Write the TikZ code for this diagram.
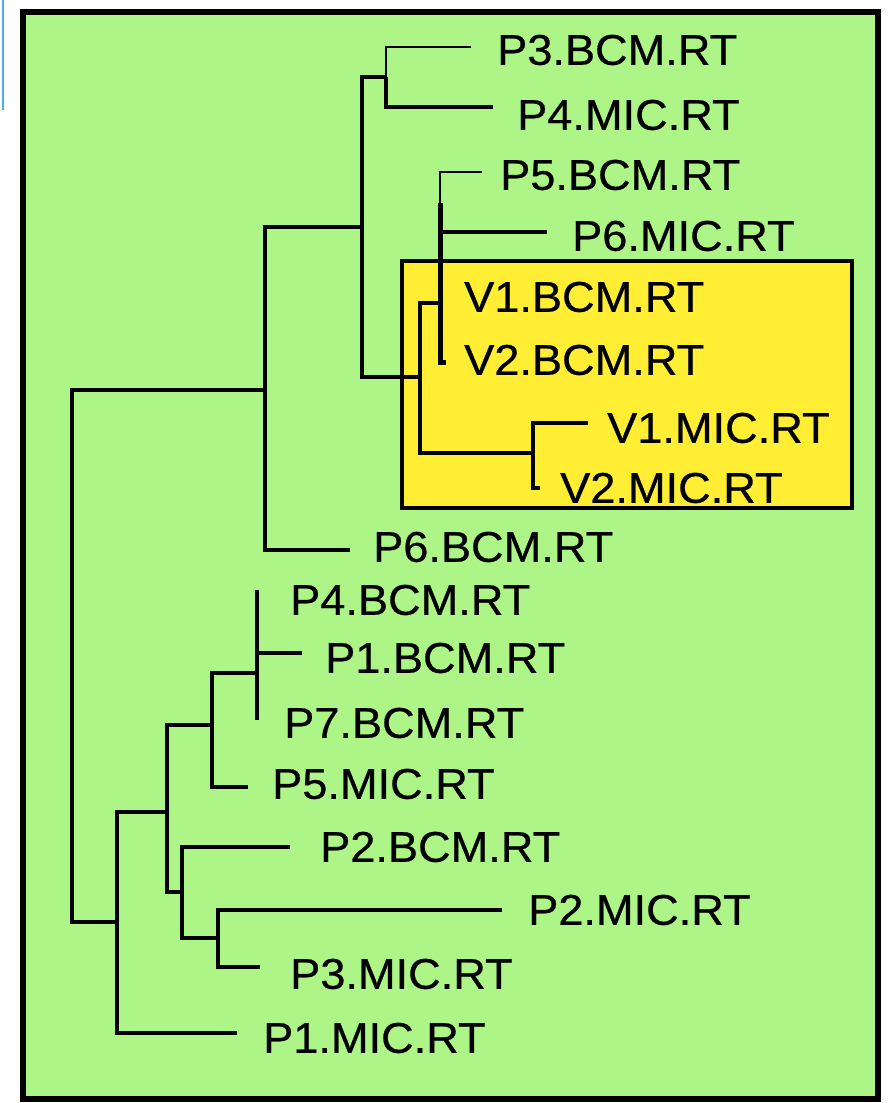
\documentclass[tikz,border=0pt]{standalone}
\usepackage{fontspec}
\setmainfont{Liberation Sans}
\newfontfamily\labfont{Liberation Sans}[FakeBold=0.6,FakeStretch=1.05]
\definecolor{bggreen}{RGB}{173,245,135}
\definecolor{hlyellow}{RGB}{255,238,52}
\definecolor{edgeblue}{RGB}{80,170,240}
\tikzset{
  branch/.style={line width=4pt, line join=miter},
  thinbranch/.style={line width=2.4pt},
  leaf/.style={anchor=west, inner sep=0pt, font=\labfont\fontsize{43}{43}\selectfont},
}
\begin{document}
\begin{tikzpicture}[x=1pt,y=-1pt]
\useasboundingbox (0,0) rectangle (891,1103);
\fill[white] (0,0) rectangle (891,1103);
\draw[edgeblue, line width=2pt] (3,0) -- (3,110);
% frame and highlight
\draw[line width=6pt, fill=bggreen] (23,12) rectangle (878,1099);
\draw[line width=3.5pt, fill=hlyellow] (402,261) rectangle (852,508);

% internal nodes
\coordinate (root) at (72,656);
\coordinate (n265) at (265,390);
\coordinate (n362) at (362,227);
\coordinate (n386) at (386,77);
\coordinate (n420) at (420,377);
\coordinate (n440) at (440,303);
\coordinate (n533) at (533,453);
\coordinate (n117) at (117,922);
\coordinate (n167) at (167,812);
\coordinate (n212) at (212,725);
\coordinate (n257) at (257,673);
\coordinate (n182) at (182,892);
\coordinate (n218) at (218,938);
% branch tips
\coordinate (tP3B) at (471,47);
\coordinate (tP4M) at (493,107);
\coordinate (tP5B) at (482,172);
\coordinate (tP6M) at (547,232);
\coordinate (tV2B) at (446,362);
\coordinate (tV1M) at (588,423);
\coordinate (tV2M) at (540,488);
\coordinate (tP6B) at (350,550);
\coordinate (tP4B) at (257,590);
\coordinate (tP1B) at (302,653);
\coordinate (tP7B) at (257,720);
\coordinate (tP5M) at (248,787);
\coordinate (tP2B) at (290,847);
\coordinate (tP2M) at (502,910);
\coordinate (tP3M) at (260,967);
\coordinate (tP1M) at (237,1033);

% labels
\node[leaf] (P3BCM) at (497,50) {P3.BCM.RT};
\node[leaf] (P4MIC) at (517,115) {P4.MIC.RT};
\node[leaf] (P5BCM) at (500,175) {P5.BCM.RT};
\node[leaf] (P6MIC) at (572,236) {P6.MIC.RT};
\node[leaf] (V1BCM) at (464,297) {V1.BCM.RT};
\node[leaf] (V2BCM) at (464,360) {V2.BCM.RT};
\node[leaf] (V1MIC) at (607,428) {V1.MIC.RT};
\node[leaf] (V2MIC) at (560,488) {V2.MIC.RT};
\node[leaf] (P6BCM) at (373,547) {P6.BCM.RT};
\node[leaf] (P4BCM) at (290,600) {P4.BCM.RT};
\node[leaf] (P1BCM) at (325,658) {P1.BCM.RT};
\node[leaf] (P7BCM) at (284,723) {P7.BCM.RT};
\node[leaf] (P5MIC) at (272,784) {P5.MIC.RT};
\node[leaf] (P2BCM) at (320,847) {P2.BCM.RT};
\node[leaf] (P2MIC) at (528,910) {P2.MIC.RT};
\node[leaf] (P3MIC) at (290,974) {P3.MIC.RT};
\node[leaf] (P1MIC) at (263,1038) {P1.MIC.RT};

% branches
\draw[line width=3.4pt] (root) |- (n265);
\draw[line width=3.4pt] (root) |- (n117);
\draw[branch] (n265) |- (n362);
\draw[branch] (n265) |- (tP6B);
\draw[branch] (n362) |- (n386);
\draw[branch] (n362) |- (n420);
\draw[thinbranch] (n386) |- (tP3B);
\draw[branch] (n386) |- (tP4M);
\draw[branch] (n420) |- (n440);
\draw[branch] (n420) |- (n533);
\draw[thinbranch] (n440) |- (tP5B);
\draw[branch] (n440) |- (tP6M);
\draw[line width=5pt] (n440) |- (tV2B);
\draw[line width=5pt] (n440) -- ++(0,-100);
\draw[branch] (n533) |- (tV1M);
\draw[branch] (n533) |- (tV2M);
\draw[branch] (n117) |- (n167);
\draw[branch] (n117) |- (tP1M);
\draw[branch] (n167) |- (n212);
\draw[branch] (n167) |- (n182);
\draw[branch] (n212) |- (n257);
\draw[branch] (n212) |- (tP5M);
\draw[branch] (n257) |- (tP4B);
\draw[branch] (n257) |- (tP1B);
\draw[branch] (n257) |- (tP7B);
\draw[branch] (n182) |- (tP2B);
\draw[branch] (n182) |- (n218);
\draw[branch] (n218) |- (tP2M);
\draw[branch] (n218) |- (tP3M);
\end{tikzpicture}
\end{document}
